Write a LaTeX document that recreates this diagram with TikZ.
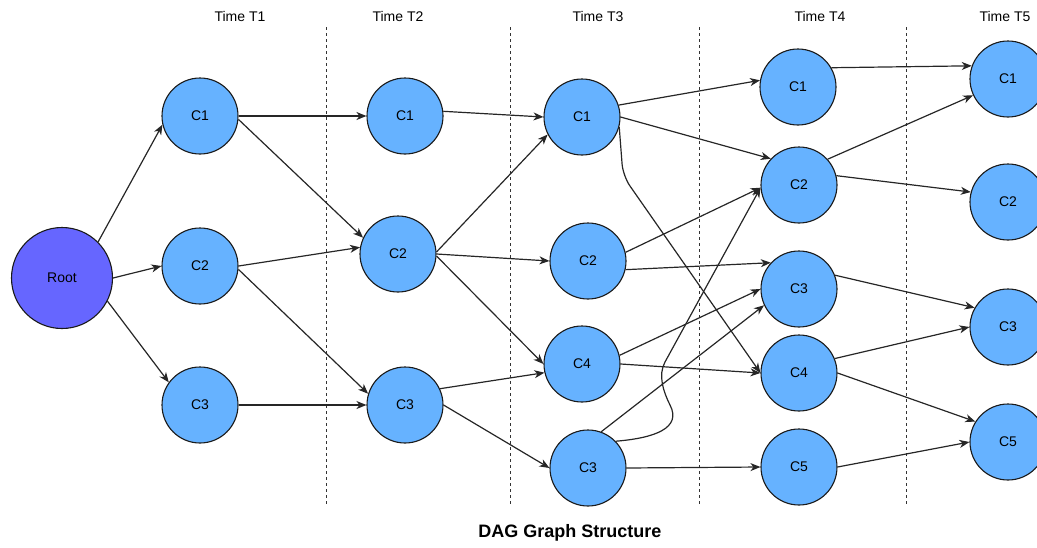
\documentclass[tikz,border=0pt]{standalone}
\usepackage{fontspec}
\setmainfont{Liberation Sans}
\usetikzlibrary{arrows.meta}
\definecolor{nodeblue}{HTML}{66B2FF}
\definecolor{rootpurple}{HTML}{6666FF}
\definecolor{strokec}{HTML}{1A1A1A}
\begin{document}
\begin{tikzpicture}[x=1pt,y=-1pt,
  cnode/.style={circle, draw=strokec, line width=1.1pt, fill=nodeblue, minimum size=76pt, inner sep=0pt, font=\fontsize{14}{16}\selectfont},
  rootnode/.style={cnode, fill=rootpurple, minimum size=101pt},
  arr/.style={draw=black!85, line width=1.2pt, -{Stealth[length=10pt,width=8pt,inset=3pt]}},
  sep/.style={draw=black!80, line width=0.9pt, dash pattern=on 3pt off 3pt},
  lbl/.style={font=\fontsize{14}{16}\selectfont},
  titlelbl/.style={font=\bfseries\fontsize{18}{20}\selectfont}]
\useasboundingbox (0,0) rectangle (1037,547);

% separators
\foreach \xx/\nm in {326/s1,510/s2,699/s3,906/s4}{
  \coordinate (\nm top) at (\xx,27);
  \coordinate (\nm bot) at (\xx,505);
  \draw[sep] (\nm top) -- (\nm bot);
}

% titles
\node[lbl] (tt1) at (240,16) {Time T1};
\node[lbl] (tt2) at (398,16) {Time T2};
\node[lbl] (tt3) at (598,16) {Time T3};
\node[lbl] (tt4) at (820,16) {Time T4};
\node[lbl] (tt5) at (1005,16) {Time T5};
\node[titlelbl] (title) at (570,533) {DAG Graph Structure};

% nodes
\node[rootnode] (root) at (62,278) {Root};
\node[cnode] (a1) at (200,116) {C1};
\node[cnode] (a2) at (200,266) {C2};
\node[cnode] (a3) at (200,405) {C3};
\node[cnode] (b1) at (405,116) {C1};
\node[cnode] (b2) at (398,254) {C2};
\node[cnode] (b3) at (405,405) {C3};
\node[cnode] (c1) at (582,117) {C1};
\node[cnode] (c2) at (588,261) {C2};
\node[cnode] (c4) at (582,364) {C4};
\node[cnode] (c3) at (588,468) {C3};
\node[cnode] (d1) at (798,87) {C1};
\node[cnode] (d2) at (799,185) {C2};
\node[cnode] (d3) at (799,289) {C3};
\node[cnode] (d4) at (799,373) {C4};
\node[cnode] (d5) at (799,467) {C5};
\node[cnode] (e1) at (1008,79) {C1};
\node[cnode] (e2) at (1008,202) {C2};
\node[cnode] (e3) at (1008,327) {C3};
\node[cnode] (e5) at (1008,442) {C5};

\coordinate (bend1) at (623,176);
\coordinate (bend2) at (670,405);
\coordinate (bend3) at (665,362);

% edges
\draw[arr] (root.45) -- (a1.193);
\draw[arr] (root.0) -- (a2.180);
\draw[arr] (root.-27) -- (a3.144);
\draw[arr] (a1.0) -- (b1.180);
\draw[arr] (a1.-5) -- (b2.155);
\draw[arr] (a2.0) -- (b2.170);
\draw[arr] (a2.-5) -- (b3.163);
\draw[arr] (a3.0) -- (b3.180);
\draw[arr] (b1.7) -- (c1.180);
\draw[arr] (b2.3) -- (c1.207);
\draw[arr] (b2.0) -- (c2.180);
\draw[arr] (b2.-3) -- (c4.180);
\draw[arr] (b3.25) -- (c4.193);
\draw[arr] (b3.0) -- (c3.180);
\draw[arr] (c1.18) -- (d1.170);
\draw[arr] (c1.0) -- (d2.137);
\draw[arr, rounded corners=12pt] (c1.-15) -- (bend1) -- (d4.180);
\draw[arr] (c2.13) -- (d2.184);
\draw[arr] (c2.-13) -- (d3.137);
\draw[arr] (c4.13) -- (d3.180);
\draw[arr] (c4.0) -- (d4.180);
\draw[arr] (c3.70) -- (d3.205);
\draw[arr] (c3.44) .. controls (655,438) and (682,428) .. (bend2)
   .. controls (663,391) and (658,375) .. (bend3) -- (d2.184);
\draw[arr] (c3.0) -- (d5.180);
\draw[arr] (d1.30) -- (e1.160);
\draw[arr] (d2.42) -- (e1.205);
\draw[arr] (d2.14) -- (e2.165);
\draw[arr] (d3.21) -- (e3.150);
\draw[arr] (d4.22) -- (e3.180);
\draw[arr] (d4.0) -- (e5.148);
\draw[arr] (d5.0) -- (e5.180);
\end{tikzpicture}
\end{document}
